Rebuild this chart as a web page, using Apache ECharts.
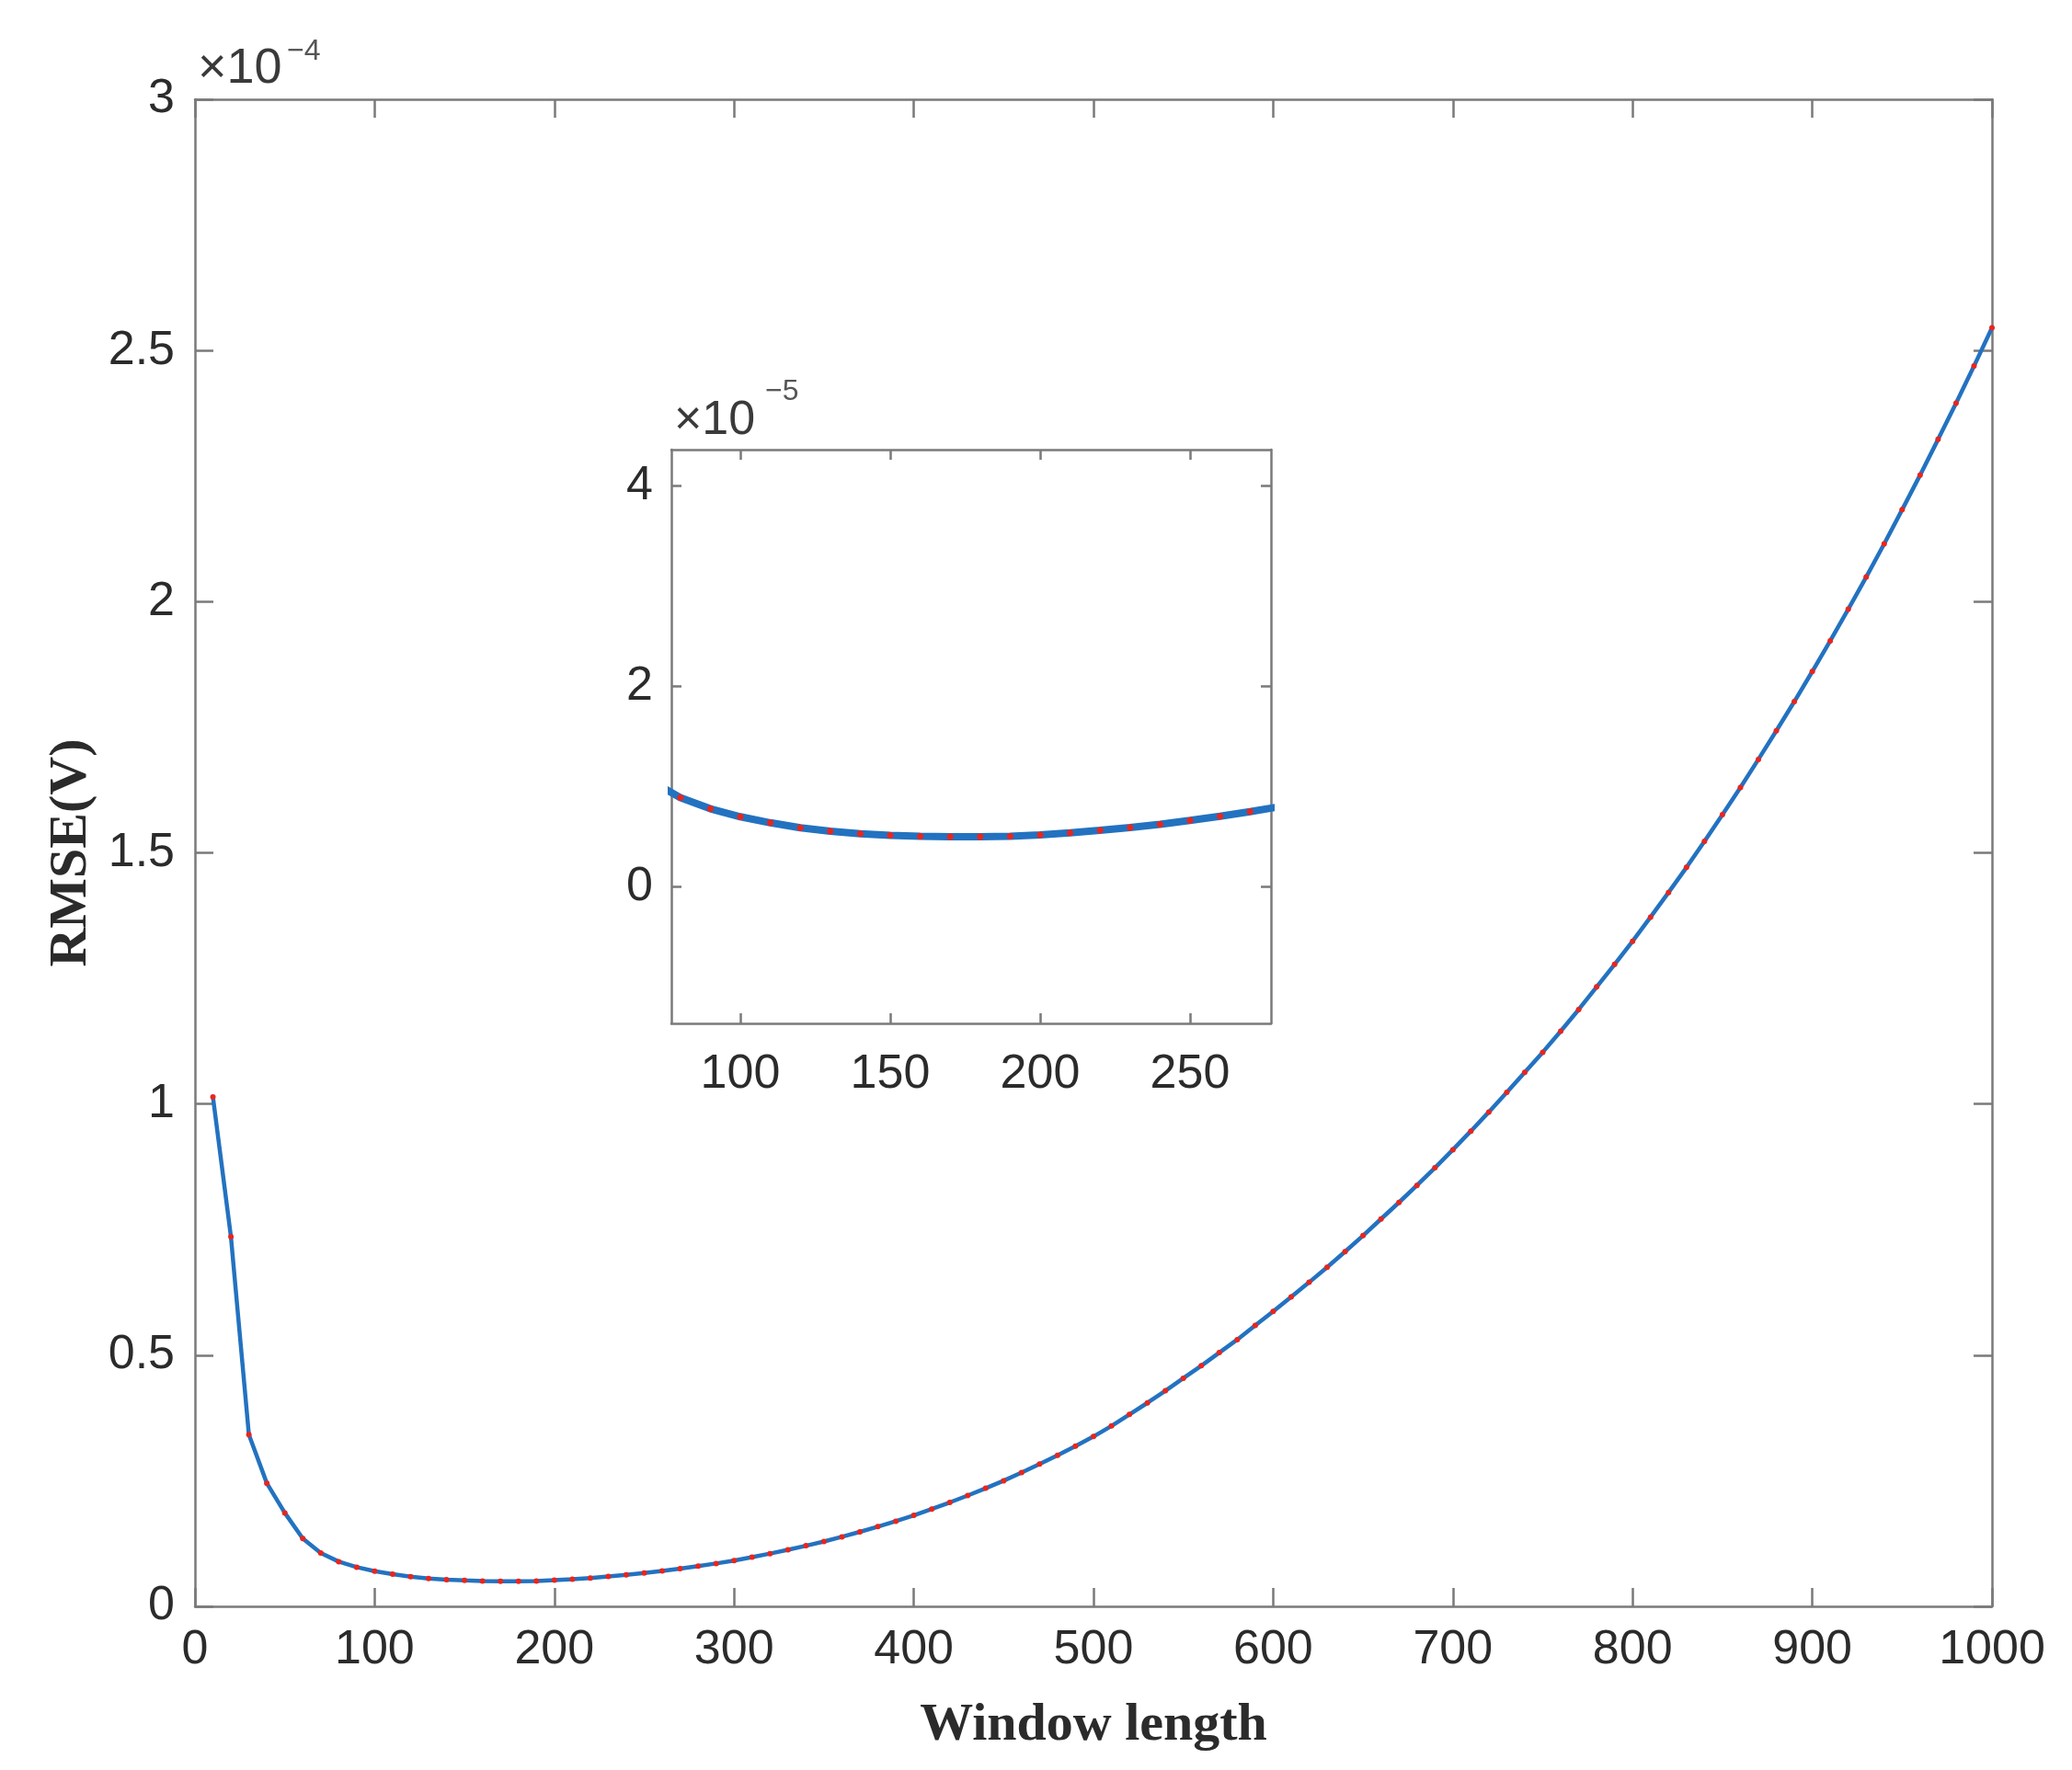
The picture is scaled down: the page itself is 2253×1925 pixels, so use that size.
<!DOCTYPE html>
<html>
<head>
<meta charset="utf-8">
<script src="https://cdn.jsdelivr.net/npm/echarts@6/dist/echarts.min.js"></script>
<style>
  html, body { margin: 0; padding: 0; background: #fff; }
  #chart { width: 2253px; height: 1925px; }
</style>
</head>
<body>
<div id="chart"></div>
<script>
// window length (samples)
const windowLength = [
  10, 20, 30, 40, 50, 60, 70, 80, 90, 100,
  110, 120, 130, 140, 150, 160, 170, 180, 190, 200,
  210, 220, 230, 240, 250, 260, 270, 280, 290, 300,
  310, 320, 330, 340, 350, 360, 370, 380, 390, 400,
  410, 420, 430, 440, 450, 460, 470, 480, 490, 500,
  510, 520, 530, 540, 550, 560, 570, 580, 590, 600,
  610, 620, 630, 640, 650, 660, 670, 680, 690, 700,
  710, 720, 730, 740, 750, 760, 770, 780, 790, 800,
  810, 820, 830, 840, 850, 860, 870, 880, 890, 900,
  910, 920, 930, 940, 950, 960, 970, 980, 990, 1000
];

// RMSE in units of 1e-4 V
const rmse = [
  1.014, 0.736, 0.342, 0.245, 0.186, 0.135, 0.106, 0.089, 0.078, 0.070,
  0.064, 0.059, 0.0555, 0.053, 0.0515, 0.0505, 0.0500, 0.0500, 0.0505, 0.0520,
  0.0540, 0.0565, 0.0593, 0.0625, 0.0663, 0.0705, 0.0751, 0.0800, 0.0853, 0.0910,
  0.0978, 0.1050, 0.1126, 0.1206, 0.1290, 0.1384, 0.1482, 0.1586, 0.1695, 0.1810,
  0.1936, 0.2068, 0.2206, 0.2350, 0.2500, 0.2662, 0.2832, 0.3008, 0.3190, 0.3380,
  0.359, 0.382, 0.405, 0.429, 0.454, 0.479, 0.505, 0.531, 0.559, 0.587,
  0.616, 0.645, 0.675, 0.706, 0.738, 0.771, 0.804, 0.838, 0.873, 0.909,
  0.946, 0.984, 1.023, 1.063, 1.103, 1.145, 1.188, 1.233, 1.278, 1.324,
  1.372, 1.421, 1.471, 1.523, 1.576, 1.630, 1.686, 1.743, 1.801, 1.861,
  1.922, 1.985, 2.049, 2.115, 2.183, 2.252, 2.323, 2.395, 2.469, 2.545
];

const insetXTicks = [100, 150, 200, 250];
const insetYTicks = [0, 2, 4];          // units of 1e-5 V
const mainExponent = '\u22124';
const insetExponent = '\u22125';

const axisGray = '#7a7a7a';
const textColor = '#2b2b2b';
const sansFont = '"Liberation Sans", Arial, sans-serif';
const serifFont = '"Liberation Serif", "Times New Roman", serif';

const mainGrid = { left: 212, right: 87, top: 108, bottom: 178 };
const insetGrid = { left: 730, top: 489, width: 652, height: 624 };

const mainData = windowLength.map((w, i) => [w, rmse[i]]);
const insetData = windowLength.map((w, i) => [w, rmse[i] * 10]);

function frameAxis(extra, tickLen, showLabel, labelMargin) {
  return Object.assign({
    type: 'value',
    splitLine: { show: false },
    axisLine: { show: true, onZero: false, lineStyle: { color: axisGray, width: 2.5 } },
    axisTick: { show: true, inside: true, length: tickLen, lineStyle: { color: axisGray, width: 2.5 } },
    axisLabel: {
      show: showLabel, color: textColor, fontSize: 52, fontFamily: sansFont,
      margin: labelMargin || 8, formatter: v => String(v)
    }
  }, extra);
}

const chart = echarts.init(document.getElementById('chart'), null, { renderer: 'canvas' });

chart.setOption({
  animation: false,
  backgroundColor: '#fff',
  grid: [
    Object.assign({ containLabel: false }, mainGrid),
    Object.assign({ containLabel: false, show: true, backgroundColor: '#fff', borderWidth: 0 }, insetGrid)
  ],
  xAxis: [
    frameAxis({
      gridIndex: 0, position: 'bottom', min: 0, max: 1000, interval: 100,
      name: 'Window length', nameLocation: 'middle', nameGap: 101,
      nameTextStyle: { fontFamily: serifFont, fontWeight: 'bold', fontSize: 58, color: textColor }
    }, 20, true, 22),
    frameAxis({ gridIndex: 0, position: 'top', min: 0, max: 1000, interval: 100 }, 20, false),
    frameAxis({ gridIndex: 1, position: 'bottom', min: 77, max: 277 }, 11, true, 30),
    frameAxis({ gridIndex: 1, position: 'top', min: 77, max: 277 }, 11, false)
  ],
  yAxis: [
    frameAxis({
      gridIndex: 0, position: 'left', min: 0, max: 3, interval: 0.5,
      name: 'RMSE(V)', nameLocation: 'middle', nameGap: 100,
      nameTextStyle: { fontFamily: serifFont, fontWeight: 'bold', fontSize: 58, color: textColor }
    }, 20, true, 22),
    frameAxis({ gridIndex: 0, position: 'right', min: 0, max: 3, interval: 0.5 }, 20, false),
    frameAxis({ gridIndex: 1, position: 'left', min: -1.36, max: 4.36 }, 11, true, 20),
    frameAxis({ gridIndex: 1, position: 'right', min: -1.36, max: 4.36 }, 11, false)
  ],
  series: [
    {
      type: 'line', xAxisIndex: 0, yAxisIndex: 0, data: mainData,
      symbol: 'circle', symbolSize: 6, showAllSymbol: true,
      lineStyle: { color: '#2372c0', width: 4.5 },
      itemStyle: { color: '#e8261e' },
      z: 3
    },
    {
      type: 'line', xAxisIndex: 2, yAxisIndex: 2, data: insetData,
      symbol: 'circle', symbolSize: 7, showAllSymbol: true, clip: true,
      lineStyle: { color: '#2372c0', width: 8 },
      itemStyle: { color: '#e8261e' },
      z: 5
    }
  ],
  graphic: [
    { type: 'text', left: 215, top: 48, z: 10,
      style: { text: '\u00d710', font: '54px ' + sansFont, fill: '#3a3a3a' } },
    { type: 'text', left: 312, top: 40, z: 10,
      style: { text: mainExponent, font: '32px ' + sansFont, fill: '#555' } },
    { type: 'text', left: 733, top: 432, z: 10,
      style: { text: '\u00d710', font: '52px ' + sansFont, fill: '#3a3a3a' } },
    { type: 'text', left: 832, top: 410, z: 10,
      style: { text: insetExponent, font: '32px ' + sansFont, fill: '#555' } }
  ]
});

// inset ticks sit at fixed values, not counted from the axis minimum
chart.setOption({
  xAxis: [{}, {},
    { axisTick: { customValues: insetXTicks }, axisLabel: { customValues: insetXTicks } },
    { axisTick: { customValues: insetXTicks } }],
  yAxis: [{}, {},
    { axisTick: { customValues: insetYTicks }, axisLabel: { customValues: insetYTicks } },
    { axisTick: { customValues: insetYTicks } }]
});
</script>
</body>
</html>
